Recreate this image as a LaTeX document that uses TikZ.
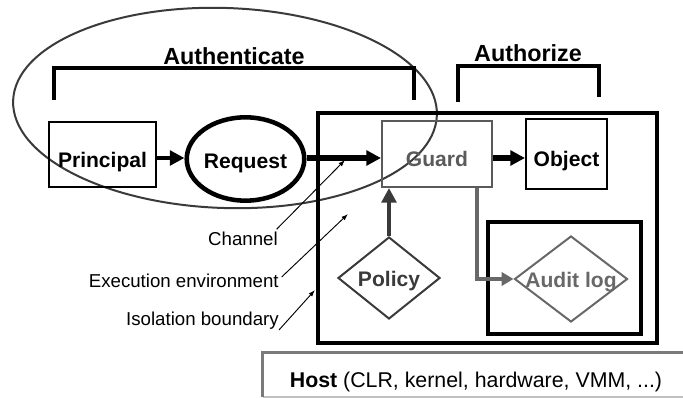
\documentclass[tikz,border=0pt]{standalone}
\usepackage{fontspec}
\setmainfont{Liberation Sans}
\usetikzlibrary{arrows.meta,shapes.geometric}
\definecolor{dgray}{HTML}{3A3A3A}
\definecolor{mgray}{HTML}{5A5A5A}
\definecolor{lgray}{HTML}{686868}
\definecolor{hostgray}{HTML}{7A7A7A}
\definecolor{hostlight}{HTML}{C0C0C0}
\begin{document}
\begin{tikzpicture}[x=0.75pt,y=-0.75pt,
  headtext/.style={font=\fontsize{17.5}{20}\selectfont\bfseries},
  nodetext/.style={font=\fontsize{15.8}{18}\selectfont\bfseries},
  lowtext/.style={text height=18.8pt, text depth=0pt},
  diatext/.style={text height=13.5pt, text depth=0pt},
  labeltext/.style={font=\fontsize{14}{16}\selectfont},
  boxnode/.style={draw, line width=1.5pt, inner sep=0pt, nodetext, lowtext},
  bracket/.style={line width=2.6pt},
  flow/.style={line width=3.6pt, -{Triangle[length=11pt,width=11pt]}},
  leader/.style={line width=0.7pt, -{Latex[length=5pt,width=3.5pt]}},
  dia/.style={diamond, draw, line width=1.5pt, inner sep=0pt},
]
\useasboundingbox (0,0) rectangle (683,398);

% Authenticate ellipse
\node[ellipse, draw=dgray, line width=1.5pt, minimum width=318pt, minimum height=150pt, rotate=-2] (authn) at (225,108) {};

% brackets
\coordinate (b1a) at (54,100); \coordinate (b1b) at (54,68);
\coordinate (b1c) at (414,68); \coordinate (b1d) at (414,100);
\draw[bracket] (b1a) -- (b1b) -- (b1c) -- (b1d);
\node[headtext] (authtext) at (234,56) {Authenticate};
\coordinate (b2a) at (458,102); \coordinate (b2b) at (458,66);
\coordinate (b2c) at (599,66); \coordinate (b2d) at (599,97);
\draw[bracket] (b2a) -- (b2b) -- (b2c) -- (b2d);
\node[headtext] (authztext) at (528,53) {Authorize};

% isolation boundary box
\node[draw, line width=2.6pt, minimum width=254.25pt, minimum height=172.5pt] (env) at (487.5,228) {};
% audit box
\node[draw, line width=2.3pt, minimum width=114.75pt, minimum height=84pt] (auditbox) at (564.5,278) {};

% main nodes
\node[boxnode, minimum width=80.25pt, minimum height=48.75pt] (principal) at (102.5,154.5) {Principal};
\node[ellipse, draw, line width=3.4pt, inner sep=0pt, minimum width=86.25pt, minimum height=62.5pt, nodetext, text height=15pt, text depth=0pt] (request) at (245.5,159) {Request};
\node[boxnode, draw=mgray, text=mgray, minimum width=82.5pt, minimum height=49.5pt] (guard) at (437,154) {Guard};
\node[boxnode, minimum width=60.75pt, minimum height=52.5pt] (object) at (566.5,154) {Object};
\node[dia, draw=dgray, minimum width=76.5pt, minimum height=61.5pt,
  label={[nodetext, diatext, text=dgray]center:Policy}] (policy) at (389,278) {};
\node[dia, draw=lgray, minimum width=84.75pt, minimum height=64.5pt,
  label={[nodetext, diatext, text=lgray]center:Audit log}] (audit) at (571,279) {};

% flows (all along the row of the request)
\coordinate (row) at (0,158);
\draw[flow] (principal.east |- row) -- (request.west |- row);
\draw[flow, line width=4.2pt] (request.east |- row) -- (guard.west |- row);
\draw[flow, line width=4.2pt] (guard.east |- row) -- (object.west |- row);
\draw[flow, draw=dgray] (policy.north) -- (policy.north |- guard.south);
\draw[flow, draw=lgray, line width=3.4pt, -{Triangle[length=9pt,width=10pt]}] ([xshift=-12pt]guard.south east) |- (audit.west);

% labels
\node[labeltext, anchor=east, inner sep=0pt] (chan) at (278,239) {Channel};
\node[labeltext, anchor=east, inner sep=0pt] (exec) at (279,281) {Execution environment};
\node[labeltext, anchor=east, inner sep=0pt] (iso) at (279,321) {Isolation boundary};
\coordinate (chantip) at (345,160);
\coordinate (exectip) at (348,214);
\coordinate (isotip) at (315,290);
\draw[leader] ([xshift=-1pt,yshift=2pt]chan.north east) -- (chantip);
\draw[leader] ([xshift=2pt,yshift=3pt]exec.east) -- (exectip);
\draw[leader] ([xshift=0pt,yshift=0pt]iso.south east) -- (isotip);

% host
\node[inner sep=0pt, minimum width=320.25pt, minimum height=33pt] (host) at (476.5,375) {};
\node[font=\fontsize{16}{18}\selectfont, inner sep=0pt] (hosttext) at (476,382) {\textbf{Host} (CLR, kernel, hardware, VMM, ...)};
\draw[hostlight, line width=1.6pt] (host.south west) -- (host.south east);
\draw[hostgray, line width=2.4pt] (host.south west) -- (host.north west) -- (host.north east);
\end{tikzpicture}
\end{document}
